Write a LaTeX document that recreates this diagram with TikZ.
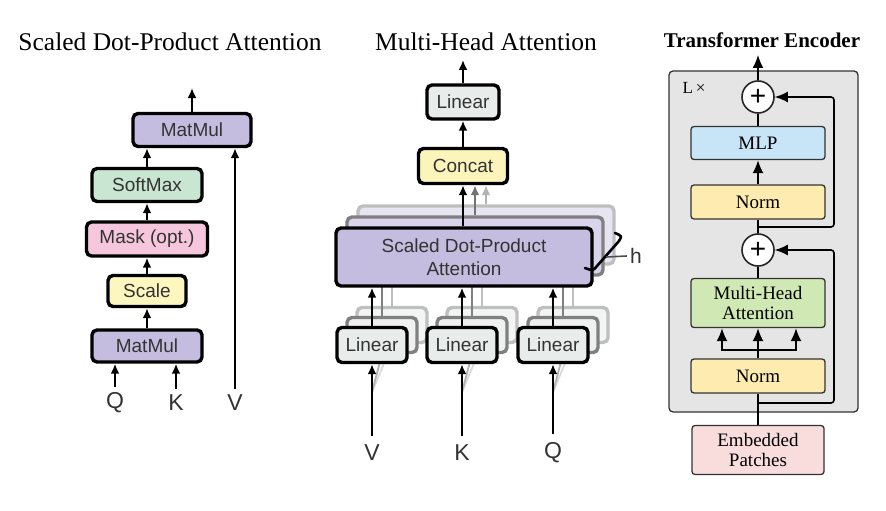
\documentclass[tikz,border=0pt]{standalone}
\usepackage{fontspec}
\setmainfont{Liberation Serif}
\setsansfont{Liberation Sans}
\usetikzlibrary{arrows.meta,calc}
\definecolor{matcol}{HTML}{C5BDE0}
\definecolor{softcol}{HTML}{C8E6D1}
\definecolor{maskcol}{HTML}{F6C7DC}
\definecolor{scalecol}{HTML}{FDF6BF}
\definecolor{lincol}{HTML}{E8ECEA}
\definecolor{catcol}{HTML}{FCF5BB}
\definecolor{boxcol}{HTML}{E5E5E5}
\definecolor{mlpcol}{HTML}{C7E5F6}
\definecolor{normcol}{HTML}{FDEBB0}
\definecolor{mhacol}{HTML}{CFE8B4}
\definecolor{embcol}{HTML}{F9DDDD}

\begin{document}
\begin{tikzpicture}[x=1pt,y=-1pt,
		blk/.style={draw,line width=3.4pt,rounded corners=5pt,inner sep=0pt,
			font=\sffamily\fontsize{19}{23}\selectfont,text=black!80,
			minimum height=33pt,align=center},
		arr/.style={line width=2.9pt,-{Latex[length=10pt,width=9pt]}},
		lab/.style={font=\sffamily\fontsize{23}{26}\selectfont,text=black!80,inner sep=0pt},
		ttl/.style={font=\fontsize{25.5}{28}\selectfont},
		enc/.style={draw=black!80,line width=1.3pt,rounded corners=3pt,
			font=\fontsize{19}{20}\selectfont,minimum width=134pt,align=center},
		plus/.style={draw=black!85,line width=1.6pt,circle,fill=white,
			minimum size=32pt,inner sep=0pt,font=\sffamily\fontsize{28}{28}\selectfont},
		earr/.style={line width=1.6pt,-{Latex[length=13pt,width=11pt]}},
		eline/.style={line width=1.6pt}]
	\useasboundingbox (0,0) rectangle (886,511);

	% scaled dot-product attention
	\node[ttl] (t1) at (170,42) {Scaled Dot-Product Attention};
	\node[blk,fill=matcol,minimum width=118pt] (mm2) at (192,130) {MatMul};
	\node[blk,fill=softcol,minimum width=110pt] (soft) at (147,185) {SoftMax};
	\node[blk,fill=maskcol,minimum width=121pt,minimum height=34pt] (mask) at (147,239) {Mask (opt.)};
	\node[blk,fill=scalecol,minimum width=78pt,minimum height=31pt] (scale) at (147,291) {Scale};
	\node[blk,fill=matcol,minimum width=110pt,minimum height=32pt] (mm1) at (147,346) {MatMul};
	\node[lab] (q1) at (115,403) {Q};
	\node[lab] (k1) at (176,403) {K};
	\node[lab] (v1) at (235,403) {V};
	\coordinate (o1) at (192,88);
	\draw[arr] (mm1.north) -- (scale.south);
	\draw[arr] (scale.north) -- (mask.south);
	\draw[arr] (mask.north) -- (soft.south);
	\draw[arr] (soft.north) -- (soft.north |- mm2.south);
	\draw[arr] (mm2.north) -- (o1);
	\foreach \l in {q1,k1}
		\draw[arr] ([yshift=6pt]\l.north) -- (\l.north |- mm1.south);
	\draw[arr] ([yshift=6pt]v1.north) -- (v1.north |- mm2.south);

	% multi-head attention
	\node[ttl] (t2) at (486,42) {Multi-Head Attention};
	\node[blk,draw=black!25,fill=matcol!40!white,minimum width=256pt,minimum height=58pt] (sd3) at (486,235) {};
	\node[blk,draw=black!50,fill=matcol!65!white,minimum width=256pt,minimum height=58pt] (sd2) at (475,246) {};
	\foreach \n/\x in {lv/372,lk/462,lq/553}{
		\node[blk,draw=black!25,fill=lincol!50!white,minimum width=70pt,minimum height=35pt] (\n3) at (\x+20,325) {};
		\node[blk,draw=black!50,fill=lincol!75!white,minimum width=70pt,minimum height=35pt] (\n2) at (\x+10,335) {};
		\draw[line width=2.8pt,black!25] (\n3.north) -- (\n3.north |- sd3.south);
		\draw[line width=2.8pt,black!50] (\n2.north) -- (\n2.north |- sd2.south);
		\draw[line width=1.8pt,black!15] (\x,392) -- (\n3.south);
		\draw[line width=1.8pt,black!30] (\x,392) -- (\n2.south);
	}
	\node[blk,fill=matcol,minimum width=256pt,minimum height=58pt] (sdpa) at (464,257) {Scaled Dot-Product\\Attention};
	\node[blk,fill=catcol,minimum width=89pt,minimum height=35pt] (cat) at (463,166) {Concat};
	\node[blk,fill=lincol,minimum width=72pt,minimum height=34pt] (lin) at (463,102) {Linear};
	\coordinate (o2) at (463,60);
	\foreach \n/\i/\x/\t in {lv/iv/372/V,lk/ik/462/K,lq/iq/553/Q}{
		\node[blk,fill=lincol,minimum width=70pt,minimum height=35pt] (\n) at (\x,345) {Linear};
		\node[lab] (\i) at (\x,453) {\t};
		\draw[arr] (\n.north) -- (\n.north |- sdpa.south);
		\draw[arr] ([yshift=9pt]\i.north) -- (\n.south);
	}
	\draw[arr,black!30] (sd3.north) -- (sd3.north |- cat.south);
	\draw[arr,black!55] (sd2.north) -- (sd2.north |- cat.south);
	\draw[arr] (cat.south |- sdpa.north) -- (cat.south);
	\draw[arr] (cat.north) -- (lin.south);
	\draw[arr] (lin.north) -- (o2);
	% heads bracket
	\draw[line width=2.6pt,line cap=round] (615,233) .. controls (622,236) .. (619,241)
		-- (597,266) .. controls (593,271) .. (585,268);
	\node[lab,font=\sffamily\fontsize{21}{24}\selectfont] (h) at (636,256) {h};
	\draw[line width=1.6pt,black!70] (606,257) -- ([xshift=-3pt]h.west);

	% transformer encoder
	\node[font=\bfseries\fontsize{21}{24}\selectfont] (t3) at (762,40) {Transformer Encoder};
	\node[draw=black!80,fill=boxcol,line width=1.3pt,rounded corners=4pt,
		minimum width=189pt,minimum height=341pt] (encbox) at (763.5,241.5) {};
	\node[font=\fontsize{17}{20}\selectfont] (lx) at (694,88) {L\,×};
	\node[plus] (p1) at (758,97) {+};
	\node[enc,fill=mlpcol,minimum height=33pt] (mlp) at (758,143) {MLP};
	\node[enc,fill=normcol,minimum height=34pt] (n2) at (758,202) {Norm};
	\node[plus] (p2) at (758,250) {+};
	\node[enc,fill=mhacol,minimum height=49pt] (mha) at (758,303) {Multi-Head\\Attention};
	\node[enc,fill=normcol,minimum height=34pt] (n1) at (758,376) {Norm};
	\node[enc,fill=embcol,minimum width=132pt,minimum height=49pt] (emb) at (758,450) {Embedded\\Patches};
	\coordinate (o3) at (758,55);
	\coordinate (j2) at (758,227);
	\coordinate (j1) at (758,403);
	\coordinate (sp) at (758,350);
	\coordinate (rx) at (834,0);
	\draw[earr] (p1.north) -- (o3);
	\draw[eline] (mlp.north) -- (p1.south);
	\draw[earr] (n2.north) -- (mlp.south);
	\draw[eline] (n2.south) -- (p2.north);
	\draw[earr,rounded corners=3pt] (j2) -| (rx |- p1) -- (p1.east);
	\draw[eline] (p2.south) -- (mha.north);
	\draw[eline] (n1.north) -- (sp);
	\draw[earr] (sp) -| ([xshift=-36pt]mha.south);
	\draw[earr] (sp) -| ([xshift=38pt]mha.south);
	\draw[earr] (sp) -- (mha.south);
	\draw[eline] (emb.north) -- (n1.south);
	\draw[earr,rounded corners=3pt] (j1) -| (rx |- p2) -- (p2.east);
\end{tikzpicture}
\end{document}
